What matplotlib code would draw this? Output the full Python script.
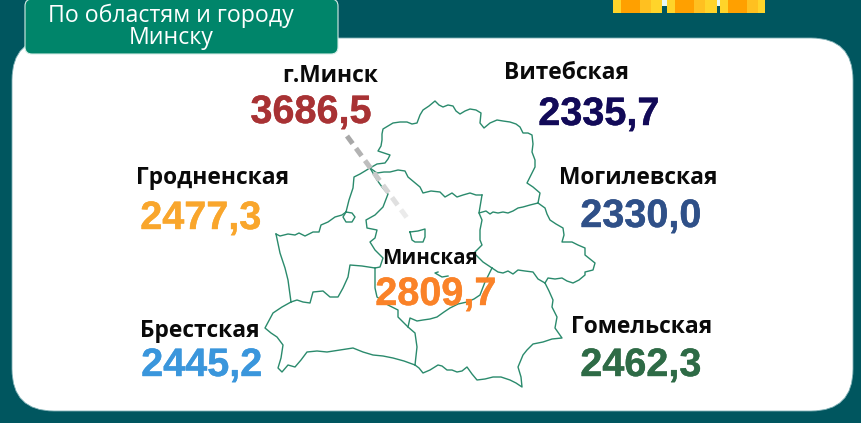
import matplotlib
matplotlib.use("Agg")
import matplotlib.pyplot as plt
from matplotlib.patches import FancyBboxPatch, Rectangle
import matplotlib.patheffects as pe

W, H = 861, 423

region_names = ["г.Минск", "Витебская", "Гродненская", "Могилевская", "Минская", "Брестская", "Гомельская"]
region_values = ["3686,5", "2335,7", "2477,3", "2330,0", "2809,7", "2445,2", "2462,3"]
value_colors = ["#A83234", "#120A58", "#F9A62C", "#2F5088", "#FA8228", "#3A96DC", "#2E6B46"]
name_xy = [(330, 76), (567, 73), (213, 178), (638, 178), (430, 259), (200, 331), (642, 327)]
name_sizes = [16.4, 16.4, 16.4, 16.4, 14.8, 16.4, 16.4]
value_xy = [(311, 112), (599, 114), (201, 218), (641, 216), (436, 294), (202, 365), (641, 365)]

vitebsk_north = [(370,168),(377,164),(385,163),(388,159),(390,155),(378,151),(381,146),(382,140),(382,134),(383,129),(388,126),(393,123),
                 (400,122),(407,122),(412,124),(417,123),(420,115),(423,110),(429,106),(435,101),(439,105),(443,107),(448,105),(453,106),(456,111),(460,114),
                 (465,111),(470,109),(476,110),(481,113),(480,123),(484,128),(490,123),(497,120),(503,121),(510,122),(516,124),(520,127),(523,133),(528,133),(532,135),
                 (533,144),(532,152),(535,160),(535,167),(531,175),(527,183),(533,187),(540,193),(538,203)]
vitebsk_south = [(370,168),(377,173),(384,172),(390,172),(398,170),(405,171),(408,177),(414,182),(420,187),(423,193),(431,191),(440,192),(445,197),(452,193),
                 (457,197),(463,195),(470,193),(476,195),(482,195)]
mogilev_north = [(482,195),(479,213),(486,211),(490,214),(493,212),(498,213),(503,212),(508,213),(513,211),(518,208),(523,207),(530,205),(538,203)]
mogilev_east = [(538,203),(545,208),(547,214),(550,220),(556,224),(563,228),(564,235),(562,242),(572,242),(578,245),(585,248),(585,255),(590,259),(595,263),(593,270),
                (585,272),(585,275),(579,280),(573,283),(567,281),(562,278),(555,279),(548,278),(545,283)]
minsk_mogilev = [(479,213),(482,220),(480,230),(480,240),(482,245),(474,253),(483,262),(492,268)]
gomel_north = [(492,268),(498,272),(503,273),(508,271),(513,274),(518,270),(525,271),(533,272),(538,279),(545,283)]
minsk_gomel = [(408,327),(410,318),(417,321),(423,320),(430,319),(437,317),(444,312),(450,308),(458,304),(467,302),(474,299),(480,295),(485,282),(492,268)]
gomel_south = [(545,283),(549,291),(553,300),(552,307),(557,317),(555,328),(562,338),(552,339),(543,342),(533,344),(527,350),(523,355),(518,367),(521,377),(522,387),
               (516,383),(510,380),(501,377),(493,377),(485,379),(477,380),(472,374),(467,367),(462,371),(457,372),(452,370),(447,370),(442,366),(438,365),(430,370),(423,373),(419,368),(415,365)]
grodno_north = [(276,234),(280,236),(288,234),(295,235),(299,233),(305,236),(313,232),(319,232),(321,225),(328,222),
                (335,217),(342,215),(346,212),(349,200),(353,188),(354,177),(360,174),(370,168)]
grodno_loop = [(346,212),(352,213),(355,217),(352,222),(346,222),(343,217),(346,212)]
grodno_minsk = [(370,168),(377,180),(382,187),(388,194),(383,207),(375,215),(366,220),(367,228),(377,230),(375,238),
                (370,242),(375,250),(383,258),(380,267),(375,268)]
grodno_west = [(276,234),(280,253),(285,268),(288,280),(291,302)]
grodno_brest = [(291,302),(297,300),(303,302),(310,303),(313,292),(323,291),(330,297),(338,297),(343,288),(348,277),(350,265),(362,266),(375,268)]
brest_outer = [(291,302),(282,307),(273,313),(265,328),(271,333),(277,337),(283,345),(281,358),(278,368),(282,372),(288,365),(295,367),
               (301,360),(307,352),(317,351),(327,352),(340,350),(353,348),(363,352),(373,355),(383,356),(393,358),(404,361),(415,365)]
brest_east = [(375,268),(375,288),(377,297),(388,305),(398,310),(398,317),(408,327),(415,333),(417,347),(415,365)]
minsk_city = [(410,232),(418,231),(425,229),(425,237),(423,242),(415,242),(412,240),(410,232)]
minsk_inner = [(438,272),(435,273),(442,277),(448,276)]
borders = [vitebsk_north, vitebsk_south, mogilev_north, mogilev_east, minsk_mogilev, gomel_north, minsk_gomel, gomel_south,
           grodno_north, grodno_loop, grodno_minsk, grodno_west, grodno_brest, brest_outer, brest_east, minsk_city, minsk_inner]

fig = plt.figure(figsize=(W / 100, H / 100), dpi=100, facecolor="#00565F")
ax = fig.add_axes([0, 0, 1, 1])
ax.set_xlim(0, W)
ax.set_ylim(H, 0)
ax.axis("off")

r = 42
ax.add_patch(FancyBboxPatch((12 + r, 38 + r), 841 - 2 * r, 373 - 2 * r, boxstyle=f"round,pad={r},rounding_size={r}",
                            fc="white", ec="#7FB0B5", lw=0.6, zorder=1))
ax.add_patch(FancyBboxPatch((32, 6), 299, 41, boxstyle="round,pad=7,rounding_size=7",
                            fc="#00856A", ec="#D5EDE6", lw=0.8, zorder=2))
ax.text(171, 16, "По областям и городу", family="Open Sans", fontsize=16.7, color="white", ha="center", va="center", zorder=3)
ax.text(171, 38, "Минску", family="Open Sans", fontsize=16.7, color="white", ha="center", va="center", zorder=3)

# coins at top
for x0, x1 in [(613, 662), (667, 717), (720, 765)]:
    ax.add_patch(Rectangle((x0, 0), x1 - x0, 13, fc="#FFD42A", ec="none", zorder=2))
    ax.add_patch(Rectangle((x0 + 8, 0), 19, 13, fc="#FFA000", ec="none", zorder=3))
    ax.add_patch(Rectangle((x0 + 27, 0), 11, 13, fc="#FFC020", ec="none", zorder=3))
ax.add_patch(Rectangle((662, 0), 5, 6, fc="#E8F8F4", ec="none", zorder=2))
ax.add_patch(Rectangle((717, 0), 3, 6, fc="#E8F8F4", ec="none", zorder=2))

for b in borders:
    xs, ys = zip(*b)
    ax.plot(xs, ys, color="#2A8A6C", lw=1.0, solid_joinstyle="round", zorder=4)

# fading dashed leader
leader_start, leader_end = (347, 136), (410, 222)
n = 7
for i in range(n):
    t0, t1 = i / n, (i + 0.62) / n
    g = 0.66 + 0.26 * i / (n - 1)
    ax.plot([leader_start[0] + t0 * 63, leader_start[0] + t1 * 63],
            [leader_start[1] + t0 * 86, leader_start[1] + t1 * 86],
            color=(g, g, g), lw=3.6, solid_capstyle="butt", zorder=5)

for name, size, val, col, nxy, vxy in zip(region_names, name_sizes, region_values, value_colors, name_xy, value_xy):
    ax.text(*nxy, name, family="Open Sans", fontweight="bold", fontsize=size, color="#0A0A0A", ha="center", va="center", zorder=6)
    t = ax.text(*vxy, val, family="Liberation Sans", fontweight="bold", fontsize=28.5, color=col, ha="center", va="center", zorder=7)
    t.set_path_effects([pe.withStroke(linewidth=0.3, foreground=col)])

fig.savefig("out.png", dpi=100, facecolor=fig.get_facecolor())
